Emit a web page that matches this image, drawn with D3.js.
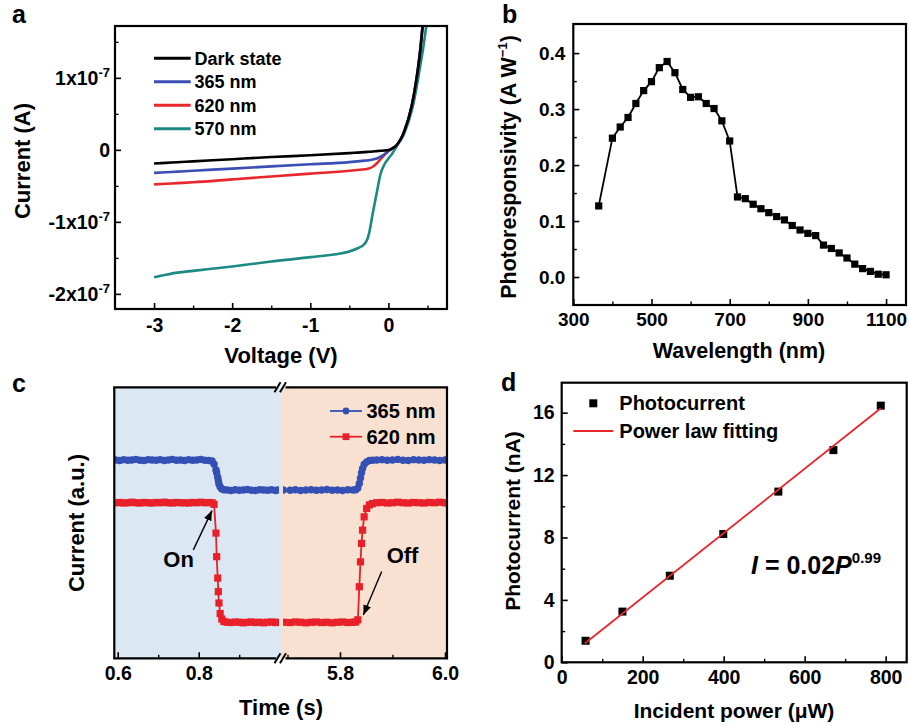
<!DOCTYPE html>
<html><head><meta charset="utf-8">
<script src="https://cdn.jsdelivr.net/npm/d3@7"></script>
<style>
body{margin:0;background:#fff}
svg{display:block}
</style>
</head><body>
<svg id="fig" width="909" height="726"></svg>
<script>
// ---------------- DATA ----------------
// Panel a: I-V curves (current in units of 1e-7 A)
const ivVoltage = [-3, -2.85, -2.7, -2.5, -2, -1.5, -1, -0.5, -0.4, -0.3, -0.25, -0.2, -0.15, -0.1, -0.05, 0, 0.05, 0.1, 0.2, 0.3, 0.35, 0.4, 0.45, 0.5];
const ivDark  = [-0.19, -0.181, -0.172, -0.16, -0.13, -0.10, -0.075, -0.045, -0.038, -0.031, -0.027, -0.023, -0.018, -0.013, -0.008, -0.002, 0.02, 0.06, 0.25, 0.62, 0.92, 1.30, 1.85, 2.5];
const iv365   = [-0.32, -0.311, -0.302, -0.29, -0.26, -0.23, -0.20, -0.17, -0.16, -0.15, -0.145, -0.135, -0.12, -0.095, -0.06, -0.015, 0.02, 0.06, 0.25, 0.62, 0.92, 1.32, 1.88, 2.5];
const iv620   = [-0.48, -0.471, -0.462, -0.45, -0.41, -0.37, -0.33, -0.29, -0.28, -0.27, -0.26, -0.235, -0.19, -0.13, -0.07, -0.02, 0.02, 0.06, 0.25, 0.62, 0.92, 1.32, 1.88, 2.5];
const iv570   = [-1.77, -1.735, -1.705, -1.68, -1.62, -1.55, -1.49, -1.41, -1.37, -1.30, -1.17, -0.88, -0.60, -0.33, -0.20, -0.12, -0.05, 0.04, 0.22, 0.55, 0.80, 1.12, 1.45, 1.85];
const ivLabels = ["Dark state", "365 nm", "620 nm", "570 nm"];
const ivXTicks = [-3, -2, -1, 0];
const ivYTicks = [-2, -1, 0, 1];

// Panel b: photoresponsivity spectrum
const wavelength = [365, 400, 420, 440, 460, 480, 500, 520, 540, 560, 580, 600, 620, 640, 660, 680, 700, 720, 740, 760, 780, 800, 820, 840, 860, 880, 900, 920, 940, 960, 980, 1000, 1020, 1040, 1060, 1080, 1100];
const responsivity = [0.127, 0.248, 0.268, 0.285, 0.310, 0.333, 0.349, 0.374, 0.385, 0.365, 0.335, 0.321, 0.322, 0.310, 0.301, 0.279, 0.243, 0.143, 0.140, 0.130, 0.122, 0.115, 0.108, 0.102, 0.092, 0.084, 0.078, 0.074, 0.057, 0.051, 0.043, 0.034, 0.023, 0.015, 0.010, 0.005, 0.004];
const wlTicks = [300, 500, 700, 900, 1100];
const respTicks = [0.0, 0.1, 0.2, 0.3, 0.4];

// Panel c: time response (arbitrary units)
const timeLeft = [0.595,0.605,0.615,0.625,0.635,0.645,0.655,0.665,0.675,0.685,0.695,0.705,0.715,0.725,0.735,0.745,0.755,0.765,0.775,0.785,0.795,0.805,0.815,0.825,
  0.833,0.838,0.8427,0.8444,0.847,0.8485,0.850,0.853,0.857,0.862,
  0.870,0.880,0.890,0.900,0.910,0.920,0.930,0.940,0.950,0.960,0.970,0.980,0.990,0.995];
const blueLeft = [0.732,0.730,0.733,0.731,0.732,0.734,0.731,0.730,0.733,0.732,0.731,0.733,0.730,0.732,0.734,0.731,0.732,0.730,0.733,0.731,0.732,0.734,0.731,0.730,
  0.728,0.716,0.695,0.685,0.668,0.655,0.643,0.632,0.625,0.622,
  0.621,0.619,0.622,0.620,0.621,0.623,0.620,0.619,0.622,0.621,0.620,0.622,0.619,0.621];
const redLeft = [0.574,0.575,0.573,0.574,0.576,0.574,0.573,0.575,0.574,0.573,0.575,0.574,0.576,0.574,0.573,0.575,0.574,0.574,0.573,0.575,0.574,0.576,0.574,0.575,
  0.574,0.568,0.462,0.375,0.296,0.246,0.204,0.165,0.145,0.136,
  0.133,0.132,0.134,0.133,0.131,0.133,0.134,0.132,0.133,0.131,0.133,0.134,0.132,0.133];
const timeRight = [5.692,5.705,5.715,5.725,5.735,5.745,5.755,5.765,5.775,5.785,5.795,5.805,5.815,5.825,
  5.830,5.834,5.8368,5.839,5.841,5.843,5.846,5.8508,5.856,5.862,
  5.870,5.880,5.890,5.900,5.910,5.920,5.930,5.940,5.950,5.960,5.970,5.980,5.990,6.000,6.005];
const blueRight = [0.621,0.620,0.622,0.619,0.621,0.622,0.620,0.621,0.623,0.620,0.621,0.619,0.622,0.621,
  0.622,0.628,0.645,0.665,0.685,0.700,0.715,0.725,0.730,0.731,
  0.732,0.733,0.731,0.732,0.734,0.731,0.730,0.733,0.732,0.731,0.733,0.732,0.730,0.732,0.732];
const redRight = [0.133,0.132,0.134,0.133,0.131,0.133,0.134,0.132,0.133,0.131,0.133,0.134,0.132,0.133,
  0.134,0.142,0.264,0.356,0.424,0.473,0.522,0.553,0.566,0.571,
  0.574,0.575,0.573,0.574,0.576,0.574,0.573,0.575,0.574,0.573,0.575,0.574,0.576,0.574,0.574];
const timeLabels = ["365 nm", "620 nm"];
const timeTicksLeft = [0.6, 0.8];
const timeTicksRight = [5.8, 6.0];

// Panel d: photocurrent vs incident power
const incidentPower = [59, 150, 267, 399, 535, 671, 788];
const photocurrent = [1.38, 3.25, 5.55, 8.22, 10.94, 13.60, 16.45];
const fitPower = [57, 788];
const fitCurrent = [1.21, 16.28];
const powerTicks = [0, 200, 400, 600, 800];
const currentTicks = [0, 4, 8, 12, 16];

// ---------------- DRAWING ----------------
const FONT = 'Arial, "Liberation Sans", Helvetica, sans-serif';
const svg = d3.select("#fig");
svg.append("rect").attr("width", 909).attr("height", 726).attr("fill", "#fff");

function txt(g, x, y, s, size, anchor) {
  return g.append("text").attr("x", x).attr("y", y).text(s)
    .attr("font-family", FONT).attr("font-weight", "bold").attr("font-size", size)
    .attr("text-anchor", anchor || "start").attr("fill", "#000");
}
function drawAxis(g, scale, orient, pos, major, minor, fmt, pad, fs) {
  const mk = () => orient === "bottom" ? d3.axisBottom(scale) : d3.axisLeft(scale);
  const tr = orient === "bottom" ? `translate(0,${pos})` : `translate(${pos},0)`;
  const ga = g.append("g").attr("transform", tr)
    .call(mk().tickValues(major).tickSizeInner(-6).tickSizeOuter(0).tickPadding(pad).tickFormat(fmt));
  ga.select(".domain").remove();
  ga.selectAll(".tick line").attr("stroke", "#000").attr("stroke-width", 1.6);
  ga.selectAll(".tick text").attr("font-size", fs).attr("font-family", FONT).attr("font-weight", "bold").attr("fill", "#000");
  if (minor) {
    const gm = g.append("g").attr("transform", tr)
      .call(mk().tickValues(minor).tickSizeInner(-3.5).tickSizeOuter(0).tickFormat(() => ""));
    gm.select(".domain").remove();
    gm.selectAll(".tick line").attr("stroke", "#000").attr("stroke-width", 1.4);
  }
  return ga;
}
function frame(g, x0, y0, x1, y1) {
  g.append("rect").attr("x", x0).attr("y", y0).attr("width", x1 - x0).attr("height", y1 - y0)
    .attr("fill", "none").attr("stroke", "#000").attr("stroke-width", 2.2);
}
const defs = svg.append("defs");
function clip(id, x0, y0, x1, y1) {
  defs.append("clipPath").attr("id", id).append("rect")
    .attr("x", x0).attr("y", y0).attr("width", x1 - x0).attr("height", y1 - y0);
  return `url(#${id})`;
}

// ===== Panel a =====
{
  const g = svg.append("g");
  const L = 115, R = 447, T = 26, B = 309;
  const x = d3.scaleLinear().domain([-3.5, 0.75]).range([L, R]);
  const y = d3.scaleLinear().domain([-2.21, 1.72]).range([B, T]);
  const cols = ["#000000", "#3a4fb4", "#e8262b", "#1b8a82"];
  const series = [ivDark, iv365, iv620, iv570];
  const line = d3.line().x(d => x(d[0])).y(d => y(d[1])).curve(d3.curveMonotoneX);
  const cp = clip("clipA", L, T, R, B);
  [3, 2, 1, 0].forEach(i => {
    g.append("path").attr("d", line(ivVoltage.map((v, k) => [v, series[i][k]])))
      .attr("fill", "none").attr("stroke", cols[i]).attr("stroke-width", 2.6).attr("clip-path", cp);
  });
  drawAxis(g, x, "bottom", B, ivXTicks, [-2.5, -1.5, -0.5, 0.5], d => d < 0 ? "-" + Math.abs(d) : String(d), 9, 19.5);
  const ya = drawAxis(g, y, "left", L, ivYTicks, [-1.5, -0.5, 0.5, 1.5], d => "", 5, 19.5);
  ya.selectAll(".tick text").each(function(d) {
    const t = d3.select(this);
    t.text(null);
    if (d === 0) { t.text("0"); return; }
    t.append("tspan").text((d < 0 ? "-" : "") + Math.abs(d) + "x10");
    t.append("tspan").attr("font-size", 13).attr("dy", "-0.55em").text("-7");
  });
  frame(g, L, T, R, B);
  // legend
  ivLabels.forEach((lab, i) => {
    const yy = 58.3 + i * 23.5;
    g.append("line").attr("x1", 154).attr("x2", 190.7).attr("y1", yy).attr("y2", yy)
      .attr("stroke", cols[i]).attr("stroke-width", 3);
    txt(g, 194.5, yy + 6.5, lab, 18);
  });
  txt(g, 281, 362.5, "Voltage (V)", 22, "middle");
  txt(g, 0, 0, "Current (A)", 22, "middle").attr("transform", "translate(30,161) rotate(-90)");
  txt(g, 12, 23, "a", 25);
}

// ===== Panel b =====
{
  const g = svg.append("g");
  const L = 573.3, R = 906, T = 24, B = 305;
  const x = d3.scaleLinear().domain([300, 1151]).range([L, R]);
  const y = d3.scaleLinear().domain([-0.05, 0.452]).range([B, T]);
  const pts = wavelength.map((w, i) => [w, responsivity[i]]);
  g.append("path").attr("d", d3.line().x(d => x(d[0])).y(d => y(d[1]))(pts))
    .attr("fill", "none").attr("stroke", "#000").attr("stroke-width", 1.8);
  g.selectAll("rect.pt").data(pts).enter().append("rect")
    .attr("x", d => x(d[0]) - 3.6).attr("y", d => y(d[1]) - 3.6)
    .attr("width", 7.2).attr("height", 7.2).attr("fill", "#000");
  drawAxis(g, x, "bottom", B, wlTicks, [400, 600, 800, 1000], d3.format("d"), 8, 19);
  drawAxis(g, y, "left", L, respTicks, [0.05, 0.15, 0.25, 0.35], d3.format(".1f"), 8, 19);
  frame(g, L, T, R, B);
  txt(g, 739, 358, "Wavelength (nm)", 21.5, "middle");
  const t = txt(g, 0, 0, "", 21.5, "middle").attr("transform", "translate(516,167) rotate(-90)");
  t.append("tspan").text("Photoresponsivity (A W");
  t.append("tspan").attr("font-size", 13).attr("dy", -9).text("\u22121");
  t.append("tspan").attr("dy", 9).text(")");
  txt(g, 502, 23, "b", 25);
}

// ===== Panel c =====
{
  const g = svg.append("g");
  const L = 114.3, R = 447, T = 387.3, B = 658.3, BRK = 281;
  const xL = d3.scaleLinear().domain([0.6, 0.8]).range([117.7, 198.7]);
  const xR = d3.scaleLinear().domain([5.8, 6.0]).range([340, 445]);
  const y = d3.scaleLinear().domain([0, 1]).range([B, T]);
  g.append("rect").attr("x", L).attr("y", T).attr("width", BRK - L).attr("height", B - T).attr("fill", "#dbe7f2");
  g.append("rect").attr("x", BRK).attr("y", T).attr("width", R - BRK).attr("height", B - T).attr("fill", "#f9e1d1");
  const blue = "#3550b4", red = "#e8202a";
  const cpL = clip("clipCL", L, T, 279, B), cpR = clip("clipCR", 283, T, R, B);
  function series(xs, ts, vs, col, shape, cp) {
    const pts = ts.map((t, i) => [t, vs[i]]);
    const gg = g.append("g").attr("clip-path", cp);
    gg.append("path").attr("d", d3.line().x(d => xs(d[0])).y(d => y(d[1]))(pts))
      .attr("fill", "none").attr("stroke", col).attr("stroke-width", 1.8);
    if (shape === "circle") {
      gg.selectAll("circle").data(pts).enter().append("circle")
        .attr("cx", d => xs(d[0])).attr("cy", d => y(d[1])).attr("r", 3.7).attr("fill", col);
    } else {
      gg.selectAll("rect").data(pts).enter().append("rect")
        .attr("x", d => xs(d[0]) - 3.6).attr("y", d => y(d[1]) - 3.6)
        .attr("width", 7.2).attr("height", 7.2).attr("fill", col);
    }
  }
  series(xL, timeLeft, blueLeft, blue, "circle", cpL);
  series(xL, timeLeft, redLeft, red, "square", cpL);
  series(xR, timeRight, blueRight, blue, "circle", cpR);
  series(xR, timeRight, redRight, red, "square", cpR);
  drawAxis(g, xL, "bottom", B, timeTicksLeft, [0.7, 0.9], d3.format(".1f"), 8, 19.5);
  drawAxis(g, xR, "bottom", B, timeTicksRight, [5.7, 5.9], d3.format(".1f"), 8, 19.5);
  // frame with break
  const fr = g.append("g").attr("stroke", "#000").attr("stroke-width", 2.2).attr("fill", "none");
  [T, B].forEach(yy => {
    fr.append("line").attr("x1", L - 1.1).attr("x2", 276).attr("y1", yy).attr("y2", yy);
    fr.append("line").attr("x1", 285.5).attr("x2", R + 1.1).attr("y1", yy).attr("y2", yy);
    [277.5, 283].forEach(bx => {
      fr.append("line").attr("x1", bx - 3).attr("y1", yy + 5).attr("x2", bx + 3).attr("y2", yy - 5)
        .attr("stroke-width", 2);
    });
  });
  fr.append("line").attr("x1", L).attr("x2", L).attr("y1", T).attr("y2", B);
  fr.append("line").attr("x1", R).attr("x2", R).attr("y1", T).attr("y2", B);
  // legend
  timeLabels.forEach((lab, i) => {
    const yy = 411 + i * 25.7, col = i === 0 ? blue : red;
    g.append("line").attr("x1", 330).attr("x2", 362).attr("y1", yy).attr("y2", yy).attr("stroke", col).attr("stroke-width", 1.8);
    if (i === 0) g.append("circle").attr("cx", 346).attr("cy", yy).attr("r", 3.4).attr("fill", col);
    else g.append("rect").attr("x", 342.6).attr("y", yy - 3.4).attr("width", 6.8).attr("height", 6.8).attr("fill", col);
    txt(g, 366.5, yy + 7.3, lab, 20);
  });
  // annotations
  defs.append("marker").attr("id", "arr").attr("viewBox", "0 0 10 8").attr("refX", 10).attr("refY", 4)
    .attr("markerWidth", 10).attr("markerHeight", 8).attr("markerUnits", "userSpaceOnUse").attr("orient", "auto")
    .append("path").attr("d", "M0,0 L10,4 L0,8 Z").attr("fill", "#000");
  g.append("line").attr("x1", xL(0.7867)).attr("y1", y(0.40)).attr("x2", xL(0.8328)).attr("y2", y(0.545))
    .attr("stroke", "#000").attr("stroke-width", 1.4).attr("marker-end", "url(#arr)");
  g.append("line").attr("x1", xR(5.8794)).attr("y1", y(0.32)).attr("x2", xR(5.8444)).attr("y2", y(0.16))
    .attr("stroke", "#000").attr("stroke-width", 1.4).attr("marker-end", "url(#arr)");
  txt(g, xL(0.7126), y(0.337), "On", 22);
  txt(g, xR(5.8889), y(0.352), "Off", 22);
  txt(g, 281, 715, "Time (s)", 22, "middle");
  txt(g, 0, 0, "Current (a.u.)", 22, "middle").attr("transform", "translate(84,523) rotate(-90)");
  txt(g, 12, 392, "c", 25);
}

// ===== Panel d =====
{
  const g = svg.append("g");
  const L = 561.7, R = 906.7, T = 382.7, B = 662.3;
  const x = d3.scaleLinear().domain([0, 852]).range([L, R]);
  const y = d3.scaleLinear().domain([0, 17.92]).range([B, T]);
  const pts = incidentPower.map((p, i) => [p, photocurrent[i]]);
  g.selectAll("rect.pt").data(pts).enter().append("rect")
    .attr("x", d => x(d[0]) - 4).attr("y", d => y(d[1]) - 4)
    .attr("width", 8).attr("height", 8).attr("fill", "#000");
  g.append("path").attr("d", d3.line().x(d => x(d[0])).y(d => y(d[1]))(fitPower.map((p, i) => [p, fitCurrent[i]])))
    .attr("fill", "none").attr("stroke", "#e8262b").attr("stroke-width", 1.8);
  drawAxis(g, x, "bottom", B, powerTicks, [100, 300, 500, 700], d3.format("d"), 8, 19.5);
  drawAxis(g, y, "left", L, currentTicks, [2, 6, 10, 14], d3.format("d"), 7, 19.5);
  frame(g, L, T, R, B);
  // legend
  g.append("rect").attr("x", 589.3).attr("y", 399.3).attr("width", 8).attr("height", 8).attr("fill", "#000");
  txt(g, 619.3, 410, "Photocurrent", 20);
  g.append("line").attr("x1", 573.3).attr("x2", 613.3).attr("y1", 431).attr("y2", 431).attr("stroke", "#e8262b").attr("stroke-width", 1.8);
  txt(g, 619.3, 438, "Power law fitting", 20);
  // equation
  const eq = txt(g, 751, 573.5, "", 25);
  eq.append("tspan").attr("font-style", "italic").text("I");
  eq.append("tspan").text(" = 0.02");
  eq.append("tspan").attr("font-style", "italic").text("P");
  eq.append("tspan").attr("font-size", 15).attr("dy", -11).text("0.99");
  txt(g, 734, 718, "Incident power (\u03bcW)", 21, "middle");
  txt(g, 0, 0, "Photocurrent (nA)", 21, "middle").attr("transform", "translate(520,521) rotate(-90)");
  txt(g, 501, 391, "d", 25);
}
</script>
</body></html>
